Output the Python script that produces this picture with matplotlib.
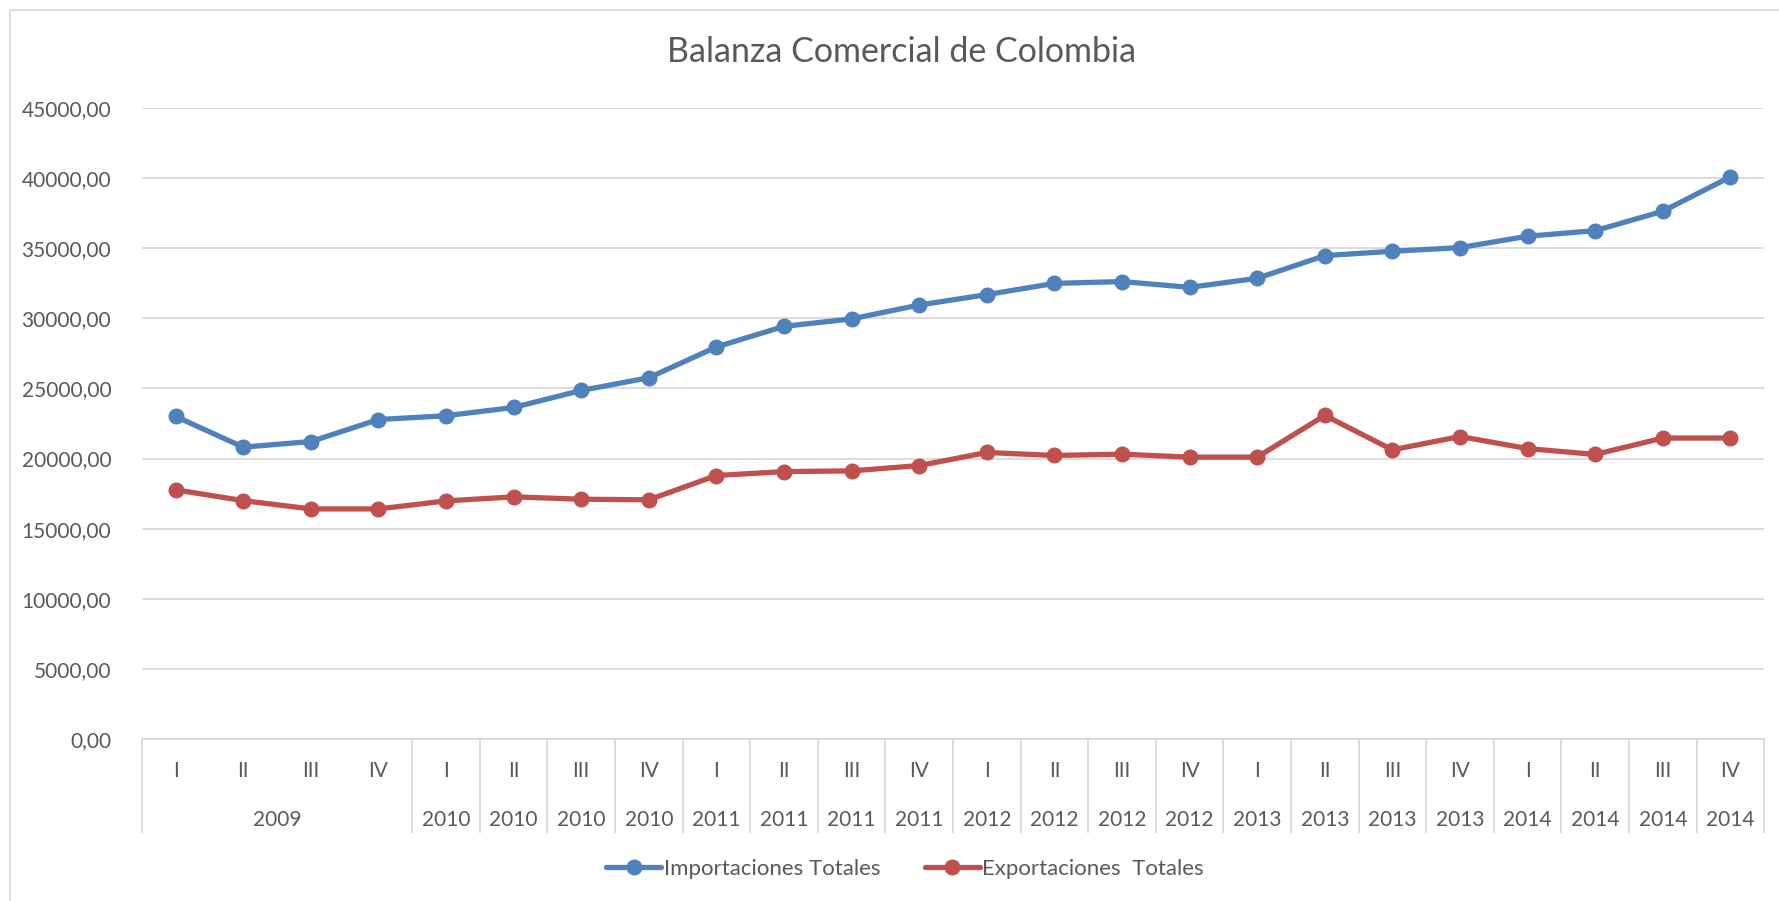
import matplotlib
matplotlib.use('Agg')
import matplotlib.pyplot as plt
from matplotlib.patches import Rectangle
from matplotlib.ticker import FuncFormatter

plt.rcParams['font.family'] = ['Lato', 'DejaVu Sans']

# Quarterly trade figures, 2009-2014
quarters = ['I', 'II', 'III', 'IV'] * 6
year_labels = ['2009'] + ['2010'] * 4 + ['2011'] * 4 + ['2012'] * 4 + ['2013'] * 4 + ['2014'] * 4
year_positions = [1.5] + list(range(4, 24))
importaciones = [23000, 20810, 21210, 22780, 23050, 23640, 24850, 25760,
                 27950, 29420, 29950, 30940, 31680, 32480, 32610, 32200,
                 32840, 34460, 34770, 35030, 35840, 36240, 37620, 40070]
exportaciones = [17770, 17000, 16410, 16410, 16980, 17270, 17100, 17060,
                 18790, 19070, 19120, 19500, 20430, 20220, 20310, 20100,
                 20100, 23070, 20620, 21570, 20710, 20290, 21460, 21460]
y_ticks = list(range(0, 45001, 5000))

TEXT = '#595959'
GRID = '#d9d9d9'
BLUE = '#4f81bd'
RED = '#c0504d'

fig = plt.figure(figsize=(17.79, 9.01), dpi=100)
fig.patches.append(Rectangle((10 / 1779, -0.1), 1.2, 1 - 10 / 901 + 0.1,
                             transform=fig.transFigure, fill=False,
                             edgecolor=GRID, linewidth=1.2))

ax = fig.add_axes([141.8 / 1779, 1 - 739.2 / 901, (1764.2 - 141.8) / 1779, (739.2 - 107.7) / 901])

x = list(range(len(quarters)))
ax.plot(x, importaciones, color=BLUE, lw=3.8, marker='o', ms=10.5,
        label='Importaciones Totales', solid_capstyle='round', zorder=3)
ax.plot(x, exportaciones, color=RED, lw=3.8, marker='o', ms=10.5,
        label='Exportaciones  Totales', solid_capstyle='round', zorder=3)

ax.set_xlim(-0.5, len(quarters) - 0.5)
ax.set_ylim(0, 45000)
ax.set_yticks(y_ticks)
ax.yaxis.set_major_formatter(FuncFormatter(lambda v, p: f'{v:.2f}'.replace('.', ',')))
ax.grid(axis='y', color=GRID, lw=1.3)
ax.set_axisbelow(True)

for s in ['top', 'right', 'left']:
    ax.spines[s].set_visible(False)
ax.spines['bottom'].set_color(GRID)
ax.spines['bottom'].set_linewidth(1.3)

ax.tick_params(axis='y', length=0, pad=22, labelsize=15, labelcolor=TEXT)

# quarter row
ax.set_xticks(x, quarters)
ax.tick_params(axis='x', which='major', length=0, pad=16, labelsize=15, labelcolor=TEXT)
# category separators (2009 is a single merged cell)
sep = [-0.5] + [i + 0.5 for i in range(3, 24)]
ax.set_xticks(sep, minor=True)
ax.tick_params(axis='x', which='minor', length=68, width=1.3, color=GRID, direction='out')

# year row
sec = ax.secondary_xaxis('bottom')
sec.spines['bottom'].set_visible(False)
sec.set_xticks(year_positions, year_labels)
sec.tick_params(axis='x', length=0, pad=51, labelsize=15, labelcolor=TEXT)

fig.text(902 / 1779, 1 - 52 / 901, 'Balanza Comercial de Colombia', ha='center', va='center',
         fontsize=24.5, color=TEXT)

fig.legend(loc='center', bbox_to_anchor=(905 / 1779, 1 - 869 / 901), ncol=2, frameon=False,
           fontsize=16, labelcolor=TEXT, handlelength=2.5, handletextpad=0.1,
           columnspacing=2.0)

fig.savefig('out.png', dpi=100)
